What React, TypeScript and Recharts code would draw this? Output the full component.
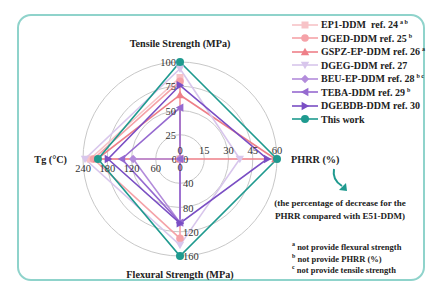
import React from "react"
import { RadarChart, Radar, PolarGrid, PolarAngleAxis, PolarRadiusAxis, Legend } from "recharts"

const axes = ["Tensile Strength (MPa)", "PHRR (%)", "Flexural Strength (MPa)", "Tg (°C)"]
const axisMax = [100, 60, 160, 240]
const tensileTicks = ["0", "25", "50", "75", "100"]
const phrrTicks = ["0", "15", "30", "45", "60"]
const flexuralTicks = ["0", "40", "80", "120", "160"]
const tgTicks = ["0", "60", "120", "180", "240"]

// values per axis: tensile, PHRR, flexural, Tg
const ep1 = [84, 0, 0, 222]
const dged = [80, 0, 131, 214]
const gspz = [66, 59, 0, 205]
const dgeg = [93, 37, 142, 235]
const beu = [0, 0, 105, 116]
const teba = [53, 0, 105, 144]
const dgebdb = [76, 54, 106, 178]
const thisWork = [100, 60, 160, 203]

const series = [
  { key: "ep1", name: "EP1-DDM  ref. 24", sup: "a b", values: ep1, color: "#f7c3c7", shape: "square" },
  { key: "dged", name: "DGED-DDM ref. 25", sup: "b", values: dged, color: "#f5a2a8", shape: "circle" },
  { key: "gspz", name: "GSPZ-EP-DDM ref. 26", sup: "a", values: gspz, color: "#ee7f88", shape: "up" },
  { key: "dgeg", name: "DGEG-DDM ref. 27", sup: "", values: dgeg, color: "#d8c6ec", shape: "down" },
  { key: "beu", name: "BEU-EP-DDM ref. 28", sup: "b c", values: beu, color: "#b38cdb", shape: "diamond" },
  { key: "teba", name: "TEBA-DDM ref. 29", sup: "b", values: teba, color: "#966ad0", shape: "left" },
  { key: "dgebdb", name: "DGEBDB-DDM ref. 30", sup: "", values: dgebdb, color: "#7a4ec4", shape: "right" },
  { key: "work", name: "This work", sup: "", values: thisWork, color: "#1f9a8f", shape: "dot" },
]

const tickSets = [tensileTicks, phrrTicks, flexuralTicks, tgTicks]
const radiusAngles = [90, 0, -90, 180]

const data = axes.map((axis, i) => {
  const row: any = { axis }
  series.forEach((s) => {
    row[s.key] = (s.values[i] / axisMax[i]) * 100
  })
  return row
})

const serif = "'Liberation Serif', 'Times New Roman', serif"

function Marker({ shape, x, y, color }: any) {
  const s = 4.2
  if (shape === "square") return <rect x={x - 3.5} y={y - 3.5} width={7} height={7} fill={color} />
  if (shape === "circle") return <circle cx={x} cy={y} r={3.8} fill={color} />
  if (shape === "dot") return <circle cx={x} cy={y} r={4} fill={color} />
  if (shape === "diamond")
    return <polygon points={`${x},${y - s} ${x + s},${y} ${x},${y + s} ${x - s},${y}`} fill={color} />
  if (shape === "up")
    return <polygon points={`${x},${y - s} ${x + s},${y + s * 0.8} ${x - s},${y + s * 0.8}`} fill={color} />
  if (shape === "down")
    return <polygon points={`${x},${y + s} ${x + s},${y - s * 0.8} ${x - s},${y - s * 0.8}`} fill={color} />
  if (shape === "left")
    return <polygon points={`${x - s},${y} ${x + s * 0.8},${y - s} ${x + s * 0.8},${y + s}`} fill={color} />
  return <polygon points={`${x + s},${y} ${x - s * 0.8},${y - s} ${x - s * 0.8},${y + s}`} fill={color} />
}

function makeDot(shape: string, color: string) {
  return (props: any) => (
    <g key={`${shape}-${props.index}`}>
      <Marker shape={shape} x={props.cx} y={props.cy} color={color} />
    </g>
  )
}

function makeRadiusTick(axisIdx: number) {
  return (props: any) => {
    const { x, y, index } = props
    const label = tickSets[axisIdx][index]
    let dx = 0
    let dy = 0
    let anchor = "middle"
    if (axisIdx === 0) {
      if (index === 0) { dy = -5 } else { anchor = "end"; dx = -4; dy = 4 }
    } else if (axisIdx === 1) {
      if (index === 0) { anchor = "start"; dx = 3; dy = 4 } else { dy = -5 }
    } else if (axisIdx === 2) {
      if (index === 0) { dy = 12 } else { anchor = "start"; dx = 3; dy = 4 }
    } else {
      if (index === 0) { anchor = "end"; dx = -3; dy = 4 } else { dy = 13 }
    }
    return (
      <text x={x + dx} y={y + dy} textAnchor={anchor} fontFamily={serif} fontSize={10.5} fill="#333">
        {label}
      </text>
    )
  }
}

function AngleTick(props: any) {
  const { x, y, payload, index } = props
  const offsets = [
    { dx: 0, dy: -7, anchor: "middle" },
    { dx: 6, dy: 4, anchor: "start" },
    { dx: 0, dy: 14, anchor: "middle" },
    { dx: -8, dy: 4, anchor: "end" },
  ]
  const o = offsets[index]
  return (
    <text x={x + o.dx} y={y + o.dy} textAnchor={o.anchor} fontFamily={serif} fontWeight="bold" fontSize={10.2} fill="#222">
      {payload.value}
    </text>
  )
}

function Sup({ children }: any) {
  return <span style={{ fontSize: 6, position: "relative", top: -4, marginLeft: 2, lineHeight: 0 }}>{children}</span>
}

function LegendBox() {
  return (
    <div style={{ fontFamily: serif, fontWeight: "bold", fontSize: 10, color: "#222" }}>
      {series.map((s) => (
        <div key={s.key} style={{ display: "flex", alignItems: "center", height: 13.5 }}>
          <svg width={28} height={12}>
            <line x1={1} y1={6} x2={27} y2={6} stroke={s.color} strokeWidth={1.6} />
            <Marker shape={s.shape} x={14} y={6} color={s.color} />
          </svg>
          <span style={{ marginLeft: 2, whiteSpace: "pre" }}>
            {s.name}
            {s.sup && <Sup>{s.sup}</Sup>}
          </span>
        </div>
      ))}
    </div>
  )
}

export default function App() {
  return (
    <div style={{ position: "absolute", left: 0, top: 0, width: 438, height: 287, background: "#fff" }}>
      <div
        style={{
          position: "absolute",
          left: 17,
          top: 14,
          width: 404,
          height: 263,
          border: "2px solid #8fd3cb",
          borderRadius: 14,
        }}
      />
      <div style={{ position: "absolute", left: 0, top: 0 }}>
        <RadarChart width={438} height={287} data={data} cx={180} cy={159} outerRadius={97} startAngle={90} endAngle={-270}>
          <PolarGrid gridType="circle" radialLines={false} stroke="#c8c8c8" />
          <PolarAngleAxis dataKey="axis" tick={AngleTick} axisLine={false} tickLine={false} />
          {radiusAngles.map((a, i) => (
            <PolarRadiusAxis
              key={`r${i}`}
              radiusAxisId={i}
              angle={a}
              domain={[0, 100]}
              tickCount={5}
              axisLine={false}
              tick={makeRadiusTick(i)}
            />
          ))}
          {radiusAngles.slice(1).map((a, i) => (
            <Radar
              key={`anchor${i}`}
              dataKey="work"
              radiusAxisId={i + 1}
              stroke="none"
              fill="none"
              fillOpacity={0}
              dot={false}
              legendType="none"
              isAnimationActive={false}
            />
          ))}
          {series.map((s) => (
            <Radar
              key={s.key}
              name={s.name}
              dataKey={s.key}
              radiusAxisId={0}
              stroke={s.color}
              strokeWidth={1.6}
              fill="none"
              fillOpacity={0}
              dot={makeDot(s.shape, s.color)}
              isAnimationActive={false}
            />
          ))}
          <Legend content={LegendBox} wrapperStyle={{ position: "absolute", left: 291, top: 18, width: 140 }} />
        </RadarChart>
      </div>
      <svg style={{ position: "absolute", left: 328, top: 166 }} width={24} height={30}>
        <path d="M6,3 Q4,14 14,20" fill="none" stroke="#1f9a8f" strokeWidth={2} />
        <polygon points="11,24 18,17 19,25" fill="#1f9a8f" />
      </svg>
      <div
        style={{
          position: "absolute",
          left: 270,
          top: 197,
          width: 140,
          textAlign: "center",
          fontFamily: serif,
          fontWeight: "bold",
          fontSize: 9,
          lineHeight: "13px",
          color: "#222",
        }}
      >
        (the percentage of decrease for the
        <br />
        PHRR compared with E51-DDM)
      </div>
      <div
        style={{
          position: "absolute",
          left: 290,
          top: 242,
          fontFamily: serif,
          fontWeight: "bold",
          fontSize: 8.5,
          lineHeight: "11.5px",
          color: "#222",
        }}
      >
        <div><Sup>a</Sup> not provide flexural strength</div>
        <div><Sup>b</Sup> not provide PHRR (%)</div>
        <div><Sup>c</Sup> not provide tensile strength</div>
      </div>
    </div>
  )
}
